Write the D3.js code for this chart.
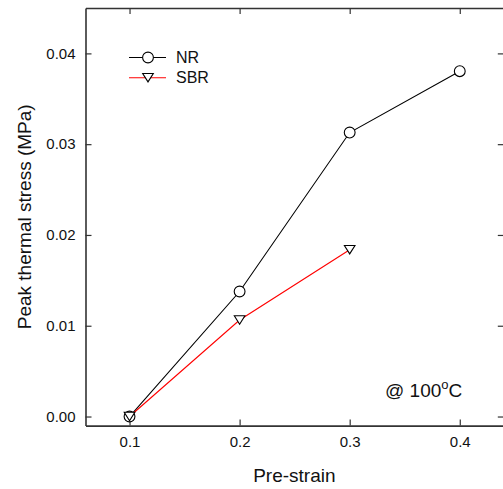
<!DOCTYPE html>
<html>
<head>
<meta charset="utf-8">
<script src="https://cdn.jsdelivr.net/npm/d3@7"></script>
<style>
  html, body { margin: 0; padding: 0; background: #fff; }
  svg { display: block; font-family: Arial, "Liberation Sans", sans-serif; }
</style>
</head>
<body>
<svg id="chart" width="503" height="489"></svg>
<script>
// ---- data ----
const preStrain = [0.1, 0.2, 0.3, 0.4];
const nrValues = [0.0, 0.01377, 0.03128, 0.03804];
const sbrStrain = [0.1, 0.2, 0.3];
const sbrValues = [0.0, 0.01063, 0.01838];
const xTicks = [0.1, 0.2, 0.3, 0.4];
const yTicks = [0.00, 0.01, 0.02, 0.03, 0.04];
const seriesNames = ["NR", "SBR"];
const xLabel = "Pre-strain";
const yLabel = "Peak thermal stress (MPa)";

(function () {
const svg = d3.select("#chart");
const mLeft = 85.5, mRight = 503.8, mTop = 8, mBottom = 425.6;

const x = d3.scaleLinear().domain([0.06, 0.44]).range([mLeft, mRight]);
const y = d3.scaleLinear().domain([-0.001, 0.045]).range([mBottom, mTop]);

const axisColor = "#333";

function styleAxis(g) {
  g.select(".domain").attr("stroke", axisColor).attr("stroke-width", 1.6);
  g.selectAll(".tick line").attr("stroke", axisColor).attr("stroke-width", 1.2);
  g.selectAll(".tick text").attr("fill", "#111").style("font-size", "15px")
    .style("font-family", "Arial, 'Liberation Sans', sans-serif");
}

svg.append("g").attr("transform", `translate(0,${mBottom})`)
  .call(d3.axisBottom(x).tickValues(xTicks).tickFormat(d3.format(".1f")).tickSizeInner(-6).tickSizeOuter(0).tickPadding(11))
  .call(styleAxis);
svg.append("g").attr("transform", `translate(0,${mTop})`)
  .call(d3.axisTop(x).tickValues(xTicks).tickFormat("").tickSizeInner(-6).tickSizeOuter(0))
  .call(styleAxis);
svg.append("g").attr("transform", `translate(${mLeft},0)`)
  .call(d3.axisLeft(y).tickValues(yTicks).tickFormat(d3.format(".2f")).tickSizeInner(-6).tickSizeOuter(0).tickPadding(10))
  .call(styleAxis);
svg.append("g").attr("transform", `translate(${mRight},0)`)
  .call(d3.axisRight(y).tickValues(yTicks).tickFormat("").tickSizeInner(-6).tickSizeOuter(0))
  .call(styleAxis);

const line = d3.line().x(d => x(d[0])).y(d => y(d[1]));
const nrData = preStrain.map((p, i) => [p, nrValues[i]]);
const sbrData = sbrStrain.map((p, i) => [p, sbrValues[i]]);

svg.append("path").datum(nrData).attr("d", line)
  .attr("fill", "none").attr("stroke", "#000").attr("stroke-width", 1.1);
svg.append("path").datum(sbrData).attr("d", line)
  .attr("fill", "none").attr("stroke", "#ff0000").attr("stroke-width", 1.1);

const tri = "M-5.3,-4.2 L5.3,-4.2 L0,4.2 Z";

svg.append("g").selectAll("circle").data(nrData).join("circle")
  .attr("cx", d => x(d[0])).attr("cy", d => y(d[1])).attr("r", 5.4)
  .attr("fill", "#fff").attr("stroke", "#000").attr("stroke-width", 1.1);
svg.append("g").selectAll("path").data(sbrData).join("path")
  .attr("d", tri)
  .attr("transform", d => `translate(${x(d[0])},${y(d[1])})`)
  .attr("fill", "#fff").attr("stroke", "#000").attr("stroke-width", 1.1);

const leg = svg.append("g");
const legY = [57.5, 77.7];
const legColors = ["#000", "#ff0000"];
seriesNames.forEach((name, i) => {
  leg.append("line").attr("x1", 129).attr("x2", 166).attr("y1", legY[i]).attr("y2", legY[i])
    .attr("stroke", legColors[i]).attr("stroke-width", 1.1);
  if (i === 0) {
    leg.append("circle").attr("cx", 148).attr("cy", legY[i]).attr("r", 5.4)
      .attr("fill", "#fff").attr("stroke", "#000").attr("stroke-width", 1.1);
  } else {
    leg.append("path").attr("d", tri).attr("transform", `translate(148,${legY[i]})`)
      .attr("fill", "#fff").attr("stroke", "#000").attr("stroke-width", 1.1);
  }
  leg.append("text").attr("x", 176).attr("y", legY[i] + 5.6)
    .style("font-size", "16px").attr("fill", "#111").text(name);
});

const ann = svg.append("text").attr("x", 385).attr("y", 397).style("font-size", "19px").attr("fill", "#111");
ann.append("tspan").text("@ 100");
ann.append("tspan").attr("dy", -8).style("font-size", "13px").text("o");
ann.append("tspan").attr("dy", 8).text("C");

svg.append("text").attr("x", (mLeft + mRight) / 2 - 0.3).attr("y", 482)
  .attr("text-anchor", "middle").style("font-size", "19px").attr("fill", "#111").text(xLabel);
svg.append("text").attr("transform", `translate(31,${(mTop + mBottom) / 2}) rotate(-90)`)
  .attr("text-anchor", "middle").style("font-size", "19px").attr("fill", "#111").text(yLabel);
})();
</script>
</body>
</html>
